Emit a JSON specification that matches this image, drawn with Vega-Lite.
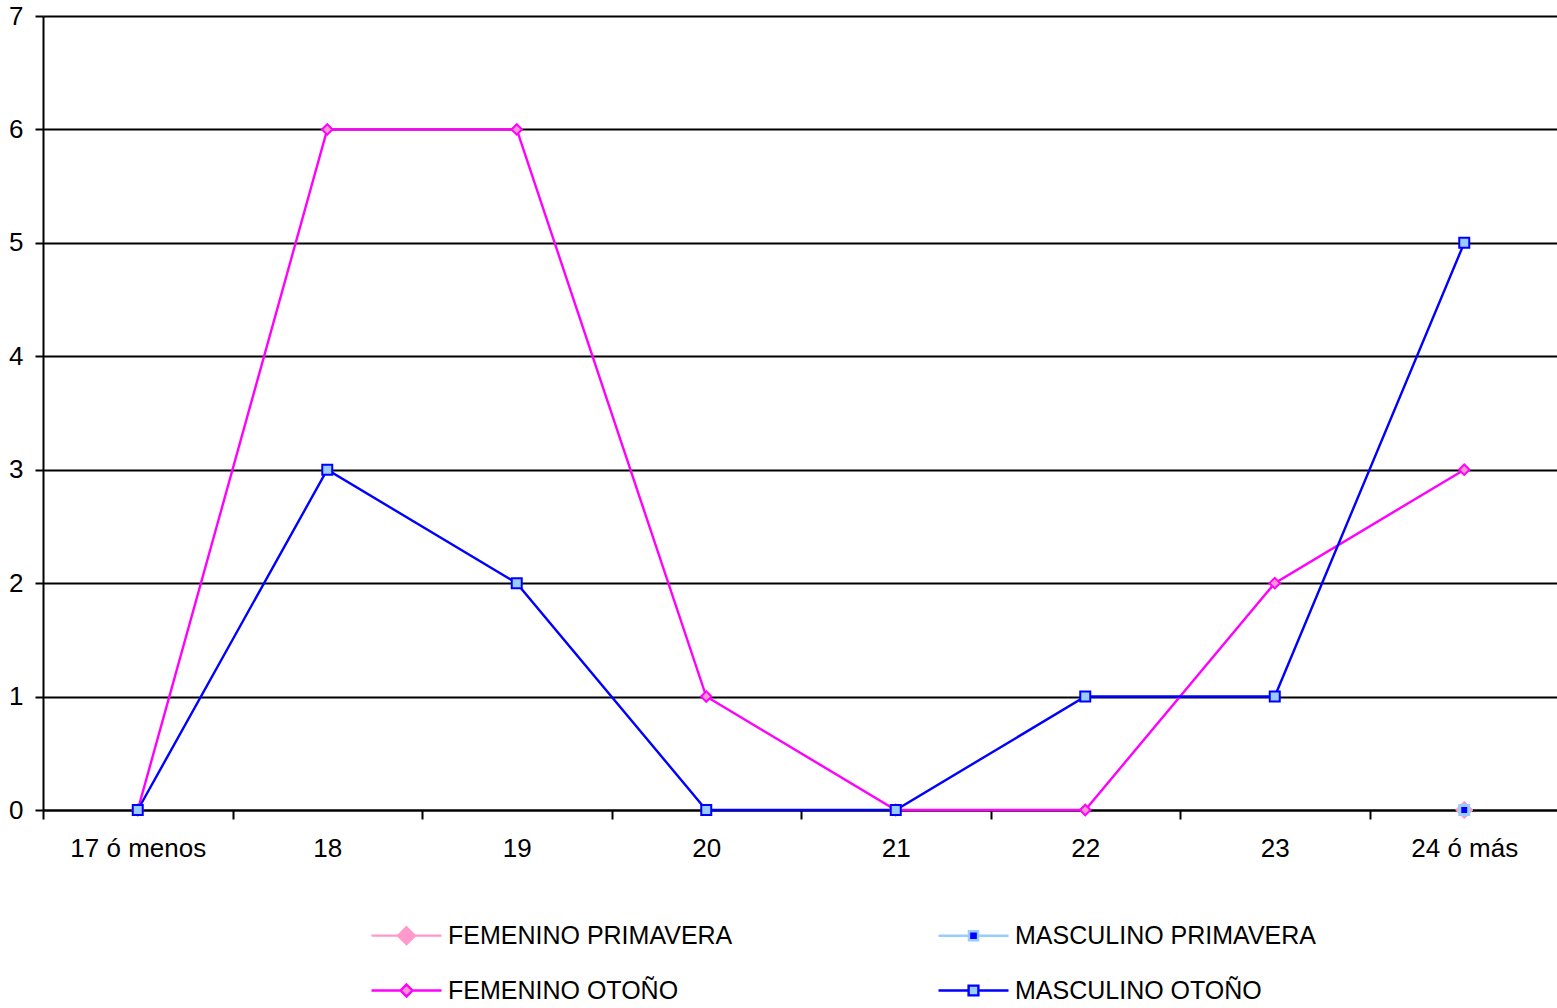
{
  "$schema": "https://vega.github.io/schema/vega-lite/v6.json",
  "width": 1516,
  "height": 794,
  "autosize": {"type": "none"},
  "padding": {"left": 43, "top": 16, "right": 0, "bottom": 198},
  "background": "white",
  "config": {"font": "Liberation Sans", "view": {"stroke": null}},
  "data": {
    "values": [
      {"edad": "24 ó más", "serie": "FEMENINO PRIMAVERA", "valor": 0},
      {"edad": "24 ó más", "serie": "MASCULINO PRIMAVERA", "valor": 0},
      {"edad": "17 ó menos", "serie": "FEMENINO OTOÑO", "valor": 0},
      {"edad": "18", "serie": "FEMENINO OTOÑO", "valor": 6},
      {"edad": "19", "serie": "FEMENINO OTOÑO", "valor": 6},
      {"edad": "20", "serie": "FEMENINO OTOÑO", "valor": 1},
      {"edad": "21", "serie": "FEMENINO OTOÑO", "valor": 0},
      {"edad": "22", "serie": "FEMENINO OTOÑO", "valor": 0},
      {"edad": "23", "serie": "FEMENINO OTOÑO", "valor": 2},
      {"edad": "24 ó más", "serie": "FEMENINO OTOÑO", "valor": 3},
      {"edad": "17 ó menos", "serie": "MASCULINO OTOÑO", "valor": 0},
      {"edad": "18", "serie": "MASCULINO OTOÑO", "valor": 3},
      {"edad": "19", "serie": "MASCULINO OTOÑO", "valor": 2},
      {"edad": "20", "serie": "MASCULINO OTOÑO", "valor": 0},
      {"edad": "21", "serie": "MASCULINO OTOÑO", "valor": 0},
      {"edad": "22", "serie": "MASCULINO OTOÑO", "valor": 1},
      {"edad": "23", "serie": "MASCULINO OTOÑO", "valor": 1},
      {"edad": "24 ó más", "serie": "MASCULINO OTOÑO", "valor": 5}
    ]
  },
  "encoding": {
    "x": {
      "field": "edad",
      "type": "nominal",
      "sort": ["17 ó menos", "18", "19", "20", "21", "22", "23", "24 ó más"],
      "scale": {"type": "band", "paddingInner": 0, "paddingOuter": 0},
      "axis": {
        "title": null,
        "tickBand": "extent",
        "grid": false,
        "zindex": 0,
        "labelAngle": 0,
        "domainColor": "black",
        "domainWidth": 2,
        "tickColor": "black",
        "tickWidth": 2,
        "tickSize": 9,
        "labelFontSize": 26,
        "labelColor": "black",
        "labelPadding": 16
      }
    },
    "y": {
      "field": "valor",
      "type": "quantitative",
      "scale": {"domain": [0, 7], "nice": false},
      "axis": {
        "title": null,
        "values": [0, 1, 2, 3, 4, 5, 6, 7],
        "grid": true,
        "gridColor": "black",
        "gridWidth": 2,
        "gridOpacity": 1,
        "zindex": 0,
        "domainColor": "black",
        "domainWidth": 2,
        "tickColor": "black",
        "tickWidth": 2,
        "tickSize": 8,
        "labelFontSize": 26,
        "labelColor": "black",
        "labelPadding": 12
      }
    }
  },
  "layer": [
    {
      "mark": {"type": "line", "strokeWidth": 2.4},
      "encoding": {
        "stroke": {
          "field": "serie",
          "type": "nominal",
          "scale": {
            "domain": ["FEMENINO PRIMAVERA", "MASCULINO PRIMAVERA", "FEMENINO OTOÑO", "MASCULINO OTOÑO"],
            "range": ["#FF99CC", "#99CCFF", "#FF00FF", "#0000FF"]
          },
          "legend": null
        }
      }
    },
    {
      "mark": {"type": "point", "filled": true, "opacity": 1},
      "encoding": {
        "shape": {
          "field": "serie",
          "type": "nominal",
          "scale": {
            "domain": ["FEMENINO PRIMAVERA", "MASCULINO PRIMAVERA", "FEMENINO OTOÑO", "MASCULINO OTOÑO"],
            "range": ["diamond", "square", "diamond", "square"]
          },
          "legend": null
        },
        "stroke": {
          "field": "serie",
          "type": "nominal",
          "scale": {
            "domain": ["FEMENINO PRIMAVERA", "MASCULINO PRIMAVERA", "FEMENINO OTOÑO", "MASCULINO OTOÑO"],
            "range": ["#FF99CC", "#99CCFF", "#FF00FF", "#0000FF"]
          },
          "legend": null
        },
        "fill": {
          "field": "serie",
          "type": "nominal",
          "scale": {
            "domain": ["FEMENINO PRIMAVERA", "MASCULINO PRIMAVERA", "FEMENINO OTOÑO", "MASCULINO OTOÑO"],
            "range": ["#FF99CC", "#0000FF", "#FF99CC", "#99CCFF"]
          },
          "legend": null
        },
        "size": {
          "field": "serie",
          "type": "nominal",
          "scale": {
            "type": "ordinal",
            "domain": ["FEMENINO PRIMAVERA", "MASCULINO PRIMAVERA", "FEMENINO OTOÑO", "MASCULINO OTOÑO"],
            "range": [300, 80, 110, 100]
          },
          "legend": null
        },
        "strokeWidth": {
          "field": "serie",
          "type": "nominal",
          "scale": {
            "type": "ordinal",
            "domain": ["FEMENINO PRIMAVERA", "MASCULINO PRIMAVERA", "FEMENINO OTOÑO", "MASCULINO OTOÑO"],
            "range": [1, 3, 2, 2]
          },
          "legend": null
        }
      }
    },
    {
      "mark": {"type": "point", "filled": true, "opacity": 0},
      "encoding": {
        "shape": {
          "field": "serie",
          "type": "nominal",
          "scale": {
            "domain": ["FEMENINO PRIMAVERA", "MASCULINO PRIMAVERA", "FEMENINO OTOÑO", "MASCULINO OTOÑO"],
            "range": [
              "M-1,0L-0.24,0M0.24,0L1,0M0,-0.24L0.24,0L0,0.24L-0.24,0Z",
              "M-1,0L-0.13,0M0.13,0L1,0M-0.13,-0.13L0.13,-0.13L0.13,0.13L-0.13,0.13Z",
              "M-1,0L-0.17,0M0.17,0L1,0M0,-0.17L0.17,0L0,0.17L-0.17,0Z",
              "M-1,0L-0.14,0M0.14,0L1,0M-0.14,-0.14L0.14,-0.14L0.14,0.14L-0.14,0.14Z"
            ]
          },
          "legend": {
            "title": null,
            "orient": "none",
            "legendX": 327,
            "legendY": 883,
            "direction": "horizontal",
            "columns": 2,
            "columnPadding": 200,
            "rowPadding": 5,
            "padding": 0,
            "symbolSize": 4900,
            "symbolStrokeWidth": 2.4,
            "symbolOpacity": 1,
            "labelFontSize": 25,
            "labelColor": "black",
            "labelOffset": 5,
            "labelLimit": 0
          }
        },
        "stroke": {
          "field": "serie",
          "type": "nominal",
          "scale": {
            "domain": ["FEMENINO PRIMAVERA", "MASCULINO PRIMAVERA", "FEMENINO OTOÑO", "MASCULINO OTOÑO"],
            "range": ["#FF99CC", "#99CCFF", "#FF00FF", "#0000FF"]
          },
          "legend": {
            "title": null,
            "orient": "none",
            "legendX": 327,
            "legendY": 883,
            "direction": "horizontal",
            "columns": 2,
            "columnPadding": 200,
            "rowPadding": 5,
            "padding": 0,
            "symbolSize": 4900,
            "symbolStrokeWidth": 2.4,
            "symbolOpacity": 1,
            "labelFontSize": 25,
            "labelColor": "black",
            "labelOffset": 5,
            "labelLimit": 0
          }
        },
        "fill": {
          "field": "serie",
          "type": "nominal",
          "scale": {
            "domain": ["FEMENINO PRIMAVERA", "MASCULINO PRIMAVERA", "FEMENINO OTOÑO", "MASCULINO OTOÑO"],
            "range": ["#FF99CC", "#0000FF", "#FF99CC", "#99CCFF"]
          },
          "legend": {
            "title": null,
            "orient": "none",
            "legendX": 327,
            "legendY": 883,
            "direction": "horizontal",
            "columns": 2,
            "columnPadding": 200,
            "rowPadding": 5,
            "padding": 0,
            "symbolSize": 4900,
            "symbolStrokeWidth": 2.4,
            "symbolOpacity": 1,
            "labelFontSize": 25,
            "labelColor": "black",
            "labelOffset": 5,
            "labelLimit": 0
          }
        }
      }
    }
  ],
  "resolve": {
    "scale": {"shape": "independent", "stroke": "independent", "fill": "independent", "size": "independent", "strokeWidth": "independent"}
  }
}
